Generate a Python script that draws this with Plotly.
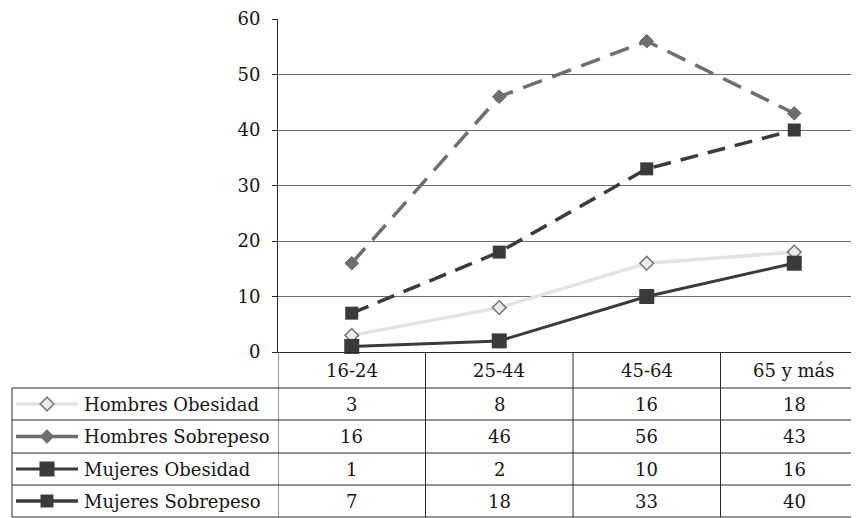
import plotly.graph_objects as go

# data
edades = ["16-24", "25-44", "45-64", "65 y más"]
series_names = ["Hombres Obesidad", "Hombres Sobrepeso", "Mujeres Obesidad", "Mujeres Sobrepeso"]
hombres_obesidad = [3, 8, 16, 18]
hombres_sobrepeso = [16, 46, 56, 43]
mujeres_obesidad = [1, 2, 10, 16]
mujeres_sobrepeso = [7, 18, 33, 40]
valores = [hombres_obesidad, hombres_sobrepeso, mujeres_obesidad, mujeres_sobrepeso]

# styles per series
estilos = [
    dict(line=dict(color="#e3e3e3", width=3.5),
         marker=dict(symbol="diamond", size=10.5, color="#ececec", line=dict(color="#777777", width=1.5))),
    dict(line=dict(color="#6e6e6e", width=3.5, dash="20px,11px"),
         marker=dict(symbol="diamond", size=10.5, color="#6e6e6e", line=dict(color="#6e6e6e", width=1))),
    dict(line=dict(color="#3b3b3b", width=3),
         marker=dict(symbol="square", size=15, color="#3b3b3b")),
    dict(line=dict(color="#3b3b3b", width=3.5, dash="18px,10px"),
         marker=dict(symbol="square", size=13, color="#3b3b3b")),
]

# the page puts the figure 8px in from the top-left corner
OFF = 8
W, H = 859 - OFF, 518 - OFF
plot_l, plot_t, plot_b = 278 - OFF, 19 - OFF, 352 - OFF
cat_w = 147.5
table_l = 12 - OFF
key_x0, key_x1, key_m = 16 - OFF, 78 - OFF, 47 - OFF
name_x = 82 - OFF
row_edges = [y - OFF for y in [352, 388, 420, 453, 485, 517]]
line_col = "#2a2a2a"
txt_col = "#151515"
FONT = "DejaVu Serif"


def px(x):
    return x / W


def py(y):
    return 1 - y / H


fig = go.Figure()

for name, vals, st in zip(series_names, valores, estilos):
    fig.add_trace(go.Scatter(x=edades, y=vals, name=name, mode="lines+markers",
                             line=st["line"], marker=st["marker"], cliponaxis=False,
                             xaxis="x", yaxis="y"))

# legend keys inside the table (overlay axes in pixel units)
for i, st in enumerate(estilos):
    yc = (row_edges[i + 1] + row_edges[i + 2]) / 2
    key_line = dict(st["line"])
    key_line.pop("dash", None)
    fig.add_trace(go.Scatter(x=[key_x0, key_x1], y=[yc, yc], mode="lines", line=key_line,
                             xaxis="x2", yaxis="y2", hoverinfo="skip"))
    fig.add_trace(go.Scatter(x=[key_m], y=[yc], mode="markers", marker=st["marker"],
                             xaxis="x2", yaxis="y2", hoverinfo="skip"))

shapes = []
# horizontal table lines
for y in row_edges[1:]:
    shapes.append(dict(type="line", xref="paper", yref="paper", x0=px(table_l), x1=1,
                       y0=py(y), y1=py(y), line=dict(color=line_col, width=1)))
# left border of legend column
shapes.append(dict(type="line", xref="paper", yref="paper", x0=px(table_l), x1=px(table_l),
                   y0=py(row_edges[1]), y1=py(row_edges[-1]), line=dict(color=line_col, width=1)))
# column separators
for i in range(len(edades)):
    shapes.append(dict(type="line", xref="x", yref="paper", x0=i - 0.5, x1=i - 0.5,
                       y0=py(row_edges[0]), y1=py(row_edges[-1]), line=dict(color=line_col, width=1)))

annotations = []
for i, lab in enumerate(edades):
    annotations.append(dict(xref="x", yref="paper", x=i, y=py((row_edges[0] + row_edges[1]) / 2),
                            text=lab, showarrow=False, xanchor="center", yanchor="middle"))
for r, (name, vals) in enumerate(zip(series_names, valores)):
    yc = py((row_edges[r + 1] + row_edges[r + 2]) / 2)
    annotations.append(dict(xref="paper", yref="paper", x=px(name_x), y=yc, text=name,
                            showarrow=False, xanchor="left", yanchor="middle"))
    for i, v in enumerate(vals):
        annotations.append(dict(xref="x", yref="paper", x=i, y=yc, text=str(v),
                                showarrow=False, xanchor="center", yanchor="middle"))

fig.update_layout(
    width=W, height=H,
    margin=dict(l=0, r=0, t=0, b=0),
    paper_bgcolor="white",
    plot_bgcolor="rgba(0,0,0,0)",
    showlegend=False,
    font=dict(family=FONT, size=18, color=txt_col),
    xaxis=dict(domain=[px(plot_l), 1], range=[-0.5, -0.5 + (W - plot_l) / cat_w],
               showticklabels=False, ticks="", showgrid=False, zeroline=False,
               showline=True, linecolor=line_col, linewidth=1, automargin=False, anchor="y"),
    yaxis=dict(domain=[py(plot_b), py(plot_t)], range=[0, 60], dtick=10,
               showgrid=True, gridcolor="#6a6a6a", gridwidth=1, zeroline=False,
               showline=True, linecolor=line_col, linewidth=1,
               ticks="outside", ticklen=5, tickcolor=line_col, ticklabelstandoff=8,
               automargin=False, anchor="x"),
    xaxis2=dict(domain=[0, 1], range=[0, W], visible=False, anchor="y2", fixedrange=True),
    yaxis2=dict(domain=[0, 1], range=[H, 0], visible=False, anchor="x2", fixedrange=True),
    shapes=shapes,
    annotations=annotations,
)

fig.write_html("out.html")
